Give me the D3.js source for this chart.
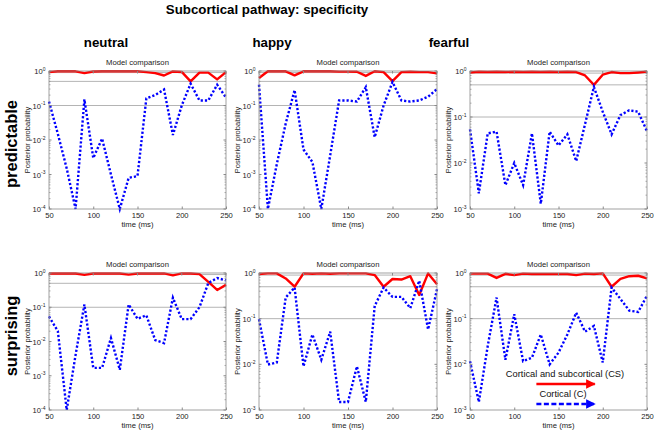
<!DOCTYPE html>
<html><head><meta charset="utf-8">
<script src="https://cdn.jsdelivr.net/npm/d3@7"></script>
<style>
html,body{margin:0;padding:0;background:#fff;}
svg{display:block;font-family:"Liberation Sans",Arial,Helvetica,sans-serif;}
</style></head>
<body>
<svg id="chart" width="654" height="431"></svg>
<script>
// ---------- data ----------
const times = [50,60,70,80,90,100,110,120,130,140,150,160,170,180,190,200,210,220,230,240,250];
const xTicks = [50,100,150,200,250];
const columnLabels = ["neutral","happy","fearful"];
const rowLabels = ["predictable","surprising"];
const refLines = [0.9,0.5,0.1];

const neutralPredCS = [0.93,0.98,0.98,0.98,0.87,0.97,0.98,0.98,0.98,0.98,0.98,0.93,0.87,0.74,0.97,0.94,0.5,0.9,0.9,0.57,0.93];
const neutralPredC  = [0.13,0.015,0.0015,0.0001,0.15,0.003,0.011,0.001,0.0001,0.0008,0.0009,0.16,0.2,0.29,0.014,0.1,0.43,0.14,0.14,0.4,0.17];
const happyPredCS   = [0.63,0.98,0.98,0.98,0.75,0.98,0.98,0.98,0.98,0.96,0.96,0.95,0.72,0.98,0.93,0.51,0.93,0.95,0.93,0.93,0.85];
const happyPredC    = [0.4,0.0001,0.002,0.03,0.28,0.0053,0.0023,0.0001,0.0036,0.14,0.14,0.13,0.34,0.012,0.1,0.48,0.14,0.13,0.14,0.18,0.3];
const fearfulPredCS = [0.93,0.96,0.95,0.96,0.95,0.96,0.95,0.96,0.95,0.96,0.95,0.96,0.95,0.8,0.5,0.83,0.95,0.9,0.9,0.93,0.97];
const fearfulPredC  = [0.054,0.0022,0.044,0.048,0.0033,0.010,0.0033,0.044,0.0013,0.048,0.024,0.042,0.011,0.07,0.45,0.13,0.042,0.11,0.14,0.13,0.049];
const neutralSurpCS = [0.97,0.97,0.97,0.97,0.88,0.97,0.97,0.97,0.97,0.9,0.97,0.97,0.97,0.97,0.85,0.97,0.97,0.93,0.55,0.32,0.45];
const neutralSurpC  = [0.054,0.02,0.0001,0.004,0.12,0.0017,0.0017,0.0126,0.0015,0.12,0.046,0.058,0.011,0.009,0.19,0.045,0.045,0.1,0.51,0.71,0.61];
const happySurpCS   = [0.95,0.98,0.98,0.76,0.5,0.98,0.96,0.98,0.96,0.98,0.98,0.98,0.98,0.9,0.5,0.74,0.72,0.85,0.33,0.98,0.57];
const happySurpC    = [0.097,0.0099,0.011,0.29,0.48,0.009,0.045,0.0126,0.052,0.0015,0.0015,0.009,0.0015,0.19,0.48,0.3,0.3,0.17,0.68,0.058,0.44];
const fearfulSurpCS = [0.97,0.97,0.97,0.78,0.96,0.9,0.97,0.95,0.95,0.95,0.95,0.95,0.9,0.97,0.95,0.98,0.5,0.74,0.85,0.87,0.76];
const fearfulSurpC  = [0.0117,0.0015,0.025,0.29,0.0126,0.125,0.0117,0.014,0.045,0.01,0.018,0.045,0.135,0.052,0.069,0.011,0.48,0.27,0.15,0.14,0.32];

const yMins = [[1e-4,1e-4,1e-3],[1e-4,1e-3,1e-3]];
const seriesCS = [[neutralPredCS,happyPredCS,fearfulPredCS],[neutralSurpCS,happySurpCS,fearfulSurpCS]];
const seriesC  = [[neutralPredC,happyPredC,fearfulPredC],[neutralSurpC,happySurpC,fearfulSurpC]];

// ---------- layout ----------
const colX = [[49,226],[259,437],[470,647]];
const rowY = [[71,209],[273,410]];
const svg = d3.select("#chart");
const boxColor = "#8a8a8a", textColor = "#222";

svg.append("text").attr("x",267).attr("y",14).attr("text-anchor","middle")
  .attr("font-size",13.3).attr("font-weight","bold").text("Subcortical pathway: specificity");
const colCenters = [106,272,449];
columnLabels.forEach((c,i)=>svg.append("text").attr("x",colCenters[i]).attr("y",47)
  .attr("text-anchor","middle").attr("font-size",13.3).attr("font-weight","bold").text(c));
const rowCenters = [144,336];
rowLabels.forEach((r,i)=>svg.append("text").attr("transform",`translate(17,${rowCenters[i]}) rotate(-90)`)
  .attr("text-anchor","middle").attr("font-size",16.5).attr("font-weight","bold").text(r));

for (let r=0;r<2;r++) for (let c=0;c<3;c++){
  const [x0,x1] = colX[c], [y0,y1] = rowY[r];
  const x = d3.scaleLinear().domain([50,250]).range([x0,x1]);
  const y = d3.scaleLog().domain([yMins[r][c],1]).range([y1,y0]);
  const g = svg.append("g");

  // reference lines
  refLines.forEach(v=>g.append("line").attr("x1",x0).attr("x2",x1).attr("y1",y(v)).attr("y2",y(v))
    .attr("stroke","#b4b4b4").attr("stroke-width",1));

  // data lines
  const lineGen = d3.line().x((d,i)=>x(times[i])).y(d=>y(d));
  g.append("path").datum(seriesCS[r][c]).attr("d",lineGen).attr("fill","none")
    .attr("stroke","#ff0000").attr("stroke-width",2.4).attr("stroke-linejoin","round");
  g.append("path").datum(seriesC[r][c]).attr("d",lineGen).attr("fill","none")
    .attr("stroke","#0000ff").attr("stroke-width",2.4).attr("stroke-dasharray","2.2,2");

  // box
  g.append("rect").attr("x",x0).attr("y",y0).attr("width",x1-x0).attr("height",y1-y0)
    .attr("fill","none").attr("stroke",boxColor).attr("stroke-width",0.8);

  // x ticks (inward, bottom and top)
  const xa = d3.axisBottom(x).tickValues(xTicks).tickSize(-2.5).tickPadding(4);
  const gx = g.append("g").attr("transform",`translate(0,${y1})`).call(xa);
  gx.select(".domain").remove();
  gx.selectAll("line").attr("stroke",boxColor);
  gx.selectAll("text").attr("font-size",7.6).attr("fill",textColor).attr("dy","0.71em").attr("y",3.5);
  xTicks.forEach(t=>g.append("line").attr("x1",x(t)).attr("x2",x(t)).attr("y1",y0).attr("y2",y0+2.5).attr("stroke",boxColor));

  // y ticks: major and minor on left and right
  const [lo] = y.domain();
  const decades = [];
  for (let e=Math.round(Math.log10(lo)); e<=0; e++) decades.push(Math.pow(10,e));
  decades.forEach(v=>{
    [[x0,1],[x1,-1]].forEach(([xx,s])=>g.append("line").attr("x1",xx).attr("x2",xx+s*2.5)
      .attr("y1",y(v)).attr("y2",y(v)).attr("stroke",boxColor));
    const e = Math.round(Math.log10(v));
    const t = g.append("text").attr("x",x0-3.5).attr("y",y(v)+3).attr("text-anchor","end")
      .attr("font-size",7.6).attr("fill",textColor);
    t.append("tspan").text("10");
    t.append("tspan").attr("dy",-3.5).attr("font-size",5).text(String(e));
  });
  decades.slice(0,-1).forEach(v=>{
    for (let k=2;k<10;k++){
      const vv = v*k;
      [[x0,1],[x1,-1]].forEach(([xx,s])=>g.append("line").attr("x1",xx).attr("x2",xx+s*1.5)
        .attr("y1",y(vv)).attr("y2",y(vv)).attr("stroke",boxColor).attr("stroke-width",0.7));
    }
  });

  // labels
  g.append("text").attr("x",(x0+x1)/2).attr("y",y0-6).attr("text-anchor","middle")
    .attr("font-size",7.7).attr("fill",textColor).text("Model comparison");
  g.append("text").attr("x",(x0+x1)/2).attr("y",y1+18).attr("text-anchor","middle")
    .attr("font-size",7.7).attr("fill",textColor).text("time (ms)");
  g.append("text").attr("transform",`translate(${x0-19},${(y0+y1)/2}) rotate(-90)`).attr("text-anchor","middle")
    .attr("font-size",7.5).attr("fill",textColor).text("Posterior probability");

  // legend in last panel
  if (r===1 && c===2){
    const defs = svg.append("defs");
    [["arrRed","#ff0000"],["arrBlue","#0000ff"]].forEach(([id,col])=>{
      defs.append("marker").attr("id",id).attr("viewBox","0 0 10 10").attr("refX",9).attr("refY",5)
        .attr("markerWidth",4).attr("markerHeight",4).attr("orient","auto").attr("markerUnits","strokeWidth")
        .append("path").attr("d","M0,0 L10,5 L0,10 z").attr("fill",col);
    });
    const lx0 = x(125), lx1 = x(191);
    g.append("text").attr("x",565).attr("y",377).attr("text-anchor","middle").attr("font-size",9.3)
      .attr("fill","#111").text("Cortical and subcortical (CS)");
    g.append("line").attr("x1",lx0).attr("x2",lx1).attr("y1",384).attr("y2",384)
      .attr("stroke","#ff0000").attr("stroke-width",2.4).attr("marker-end","url(#arrRed)");
    g.append("text").attr("x",563).attr("y",397).attr("text-anchor","middle").attr("font-size",9.3)
      .attr("fill","#111").text("Cortical (C)");
    g.append("line").attr("x1",lx0).attr("x2",lx1).attr("y1",404).attr("y2",404)
      .attr("stroke","#0000ff").attr("stroke-width",2.4).attr("stroke-dasharray","5,2.5").attr("marker-end","url(#arrBlue)");
  }
}
</script>
</body></html>
